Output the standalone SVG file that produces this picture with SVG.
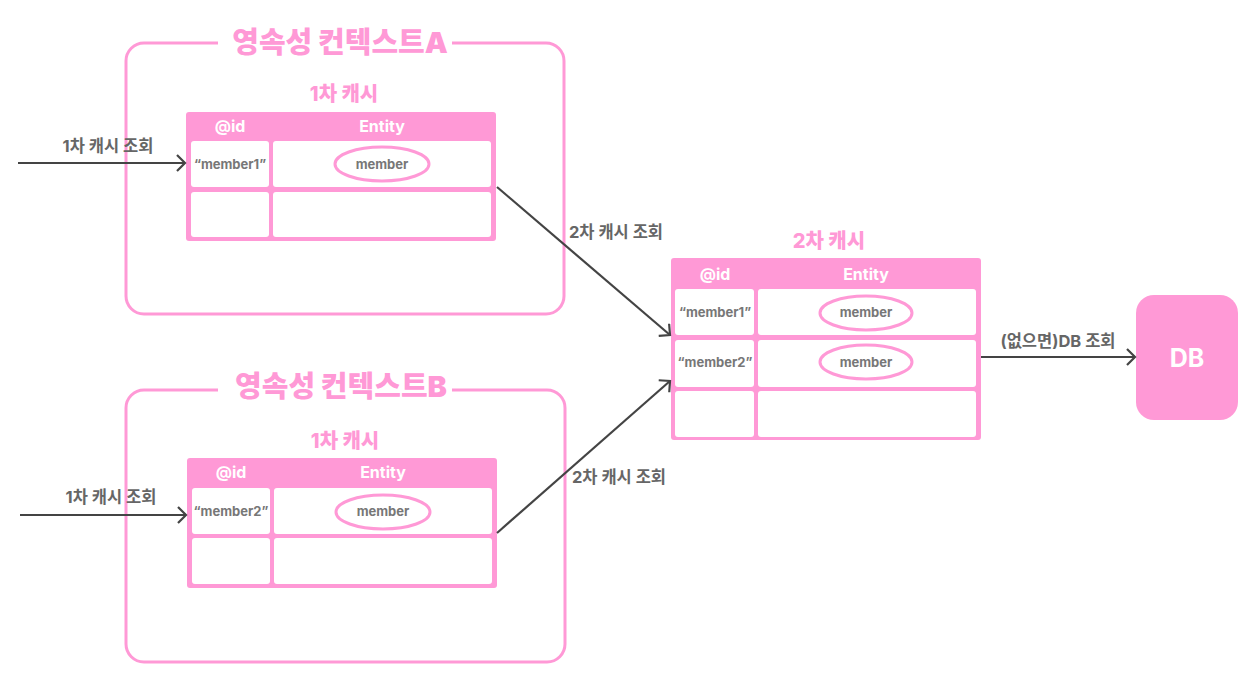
<svg xmlns="http://www.w3.org/2000/svg" width="1260" height="687" viewBox="0 0 1260 687">
<style>
.ctx{fill:none;stroke:#ff99d6;stroke-width:3}
.gap{fill:#ffffff}
.title{font-family:Inter,"Noto Sans CJK KR",sans-serif;font-weight:900;font-size:29px;fill:#ff99d6;text-anchor:middle}
.cap{font-family:Inter,"Noto Sans CJK KR",sans-serif;font-weight:800;font-size:20px;fill:#ff99d6;text-anchor:middle}
.tbl{fill:#ff99d6}
.cell{fill:#ffffff}
.hdr{font-family:Inter,"Noto Sans CJK KR",sans-serif;font-weight:700;font-size:16px;fill:#ffffff;text-anchor:middle}
.val{font-family:Inter,"Noto Sans CJK KR",sans-serif;font-weight:700;font-size:13px;fill:#777777;text-anchor:middle}
.ell{fill:none;stroke:#ff99d6;stroke-width:3}
.lbl{font-family:Inter,"Noto Sans CJK KR",sans-serif;font-weight:700;font-size:16.5px;fill:#666666;text-anchor:middle}
.conn{fill:none;stroke:#444444;stroke-width:2.2;marker-end:url(#arr)}
</style>
<defs>
<marker id="arr" markerWidth="14" markerHeight="18" refX="11" refY="9" orient="auto" markerUnits="userSpaceOnUse">
<path d="M3,1 L11,9 L3,17" fill="none" stroke="#444444" stroke-width="2.2"/>
</marker>
</defs>

<g id="context-a">
<rect class="ctx" x="126" y="43" width="438" height="271" rx="18"/>
<rect class="gap" x="218" y="36" width="234" height="14"/>
<text class="title" x="340" y="53">영속성 컨텍스트A</text>
</g>
<g id="cache1-a">
<text class="cap" x="344" y="101">1차 캐시</text>
<rect class="tbl" x="186" y="112" width="310" height="129" rx="3"/>
<text class="hdr" x="230" y="132">@id</text>
<text class="hdr" x="382" y="132">Entity</text>
<rect class="cell" x="191" y="141" width="78" height="46" rx="3"/>
<rect class="cell" x="273" y="141" width="218" height="46" rx="3"/>
<rect class="cell" x="191" y="192" width="78" height="45" rx="3"/>
<rect class="cell" x="273" y="192" width="218" height="45" rx="3"/>
<text class="val" x="230" y="169">“member1”</text>
<ellipse class="ell" cx="382" cy="164" rx="47" ry="17"/>
<text class="val" x="382" y="169">member</text>
</g>

<g id="context-b">
<rect class="ctx" x="126" y="390" width="439" height="272" rx="18"/>
<rect class="gap" x="218" y="383" width="234" height="14"/>
<text class="title" x="341" y="397">영속성 컨텍스트B</text>
</g>
<g id="cache1-b">
<text class="cap" x="345" y="448">1차 캐시</text>
<rect class="tbl" x="187" y="458" width="310" height="130" rx="3"/>
<text class="hdr" x="231" y="478">@id</text>
<text class="hdr" x="383" y="478">Entity</text>
<rect class="cell" x="192" y="488" width="78" height="46" rx="3"/>
<rect class="cell" x="274" y="488" width="218" height="46" rx="3"/>
<rect class="cell" x="192" y="538" width="78" height="46" rx="3"/>
<rect class="cell" x="274" y="538" width="218" height="46" rx="3"/>
<text class="val" x="231" y="516">“member2”</text>
<ellipse class="ell" cx="383" cy="512" rx="47" ry="17"/>
<text class="val" x="383" y="516">member</text>
</g>

<g id="cache2">
<text class="cap" x="829" y="248">2차 캐시</text>
<rect class="tbl" x="671" y="258" width="310" height="182" rx="3"/>
<text class="hdr" x="715" y="280">@id</text>
<text class="hdr" x="866" y="280">Entity</text>
<rect class="cell" x="675" y="289" width="79" height="46" rx="3"/>
<rect class="cell" x="758" y="289" width="218" height="46" rx="3"/>
<rect class="cell" x="675" y="340" width="79" height="47" rx="3"/>
<rect class="cell" x="758" y="340" width="218" height="47" rx="3"/>
<rect class="cell" x="675" y="391" width="79" height="46" rx="3"/>
<rect class="cell" x="758" y="391" width="218" height="46" rx="3"/>
<text class="val" x="715" y="317">“member1”</text>
<ellipse class="ell" cx="866" cy="313" rx="46" ry="17"/>
<text class="val" x="866" y="317">member</text>
<text class="val" x="715" y="367">“member2”</text>
<ellipse class="ell" cx="866" cy="362" rx="46" ry="17"/>
<text class="val" x="866" y="367">member</text>
</g>

<g id="db">
<rect x="1136" y="295" width="102" height="125" rx="18" fill="#ff99d6"/>
<text x="1187" y="367" font-family="Inter,'Noto Sans CJK KR',sans-serif" font-weight="700" font-size="25" fill="#ffffff" text-anchor="middle">DB</text>
</g>

<g id="connectors">
<line class="conn" x1="18" y1="163" x2="185" y2="163"/>
<text class="lbl" x="108" y="152">1차 캐시 조회</text>
<line class="conn" x1="20" y1="515" x2="186" y2="515"/>
<text class="lbl" x="111" y="503">1차 캐시 조회</text>
<line class="conn" x1="497" y1="187" x2="670" y2="335"/>
<text class="lbl" x="616" y="238">2차 캐시 조회</text>
<line class="conn" x1="497" y1="533" x2="670" y2="381"/>
<text class="lbl" x="619" y="483">2차 캐시 조회</text>
<line class="conn" x1="981" y1="357" x2="1135" y2="357"/>
<text class="lbl" x="1058" y="347">(없으면)DB 조회</text>
</g>
</svg>
